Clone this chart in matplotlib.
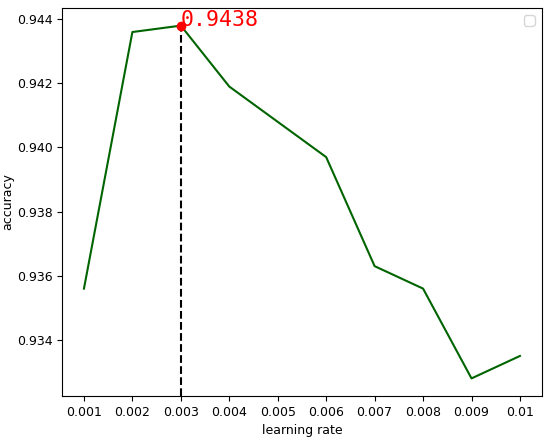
import matplotlib.pyplot as plt

learning_rates = ["0.001", "0.002", "0.003", "0.004", "0.005",
                  "0.006", "0.007", "0.008", "0.009", "0.01"]
accuracy = [0.9356, 0.9436, 0.9438, 0.9419, 0.9408,
            0.9397, 0.9363, 0.9356, 0.9328, 0.9335]

fig, ax = plt.subplots(figsize=(5.5, 4.43), dpi=100)
fig.subplots_adjust(left=0.113, right=0.985, top=0.982, bottom=0.106)

x = list(range(len(learning_rates)))
ax.plot(x, accuracy, color="darkgreen", linewidth=1.5)

best = max(range(len(accuracy)), key=lambda i: accuracy[i])
ylim = ax.get_ylim()
ax.vlines(x[best], ylim[0], accuracy[best], colors="black", linestyles="--", linewidth=1.5)
ax.set_ylim(ylim)
ax.plot(x[best], accuracy[best], "o", color="red", markersize=6)
ax.text(x[best], accuracy[best], f"{accuracy[best]:.4f}", color="red",
        family="DejaVu Sans Mono", fontsize=15.5)

ax.set_xticks(x)
ax.set_xticklabels(learning_rates)
ax.tick_params(labelsize=9)
ax.set_xlabel("learning rate", fontsize=9)
ax.set_ylabel("accuracy", fontsize=9, labelpad=2)
ax.legend()

fig.savefig("out.png")
